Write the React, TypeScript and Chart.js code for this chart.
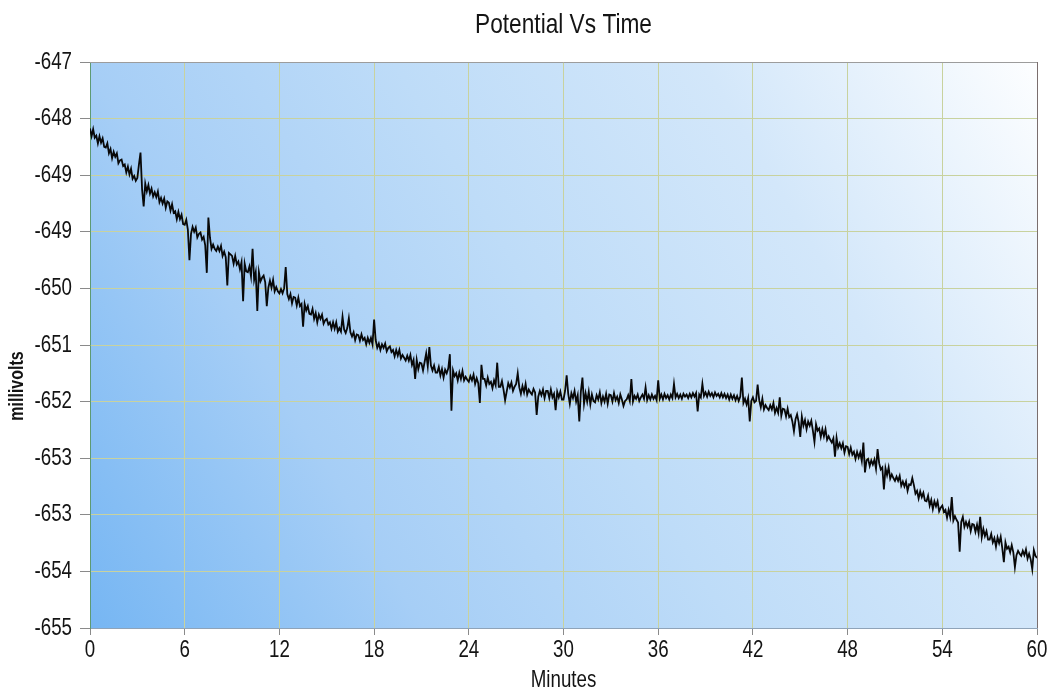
import { useEffect, useRef } from "react";
import { Chart, registerables } from "chart.js";

Chart.register(...registerables);

// Sampling interval of the recorded potential (minutes)
const SAMPLE_STEP_MIN = 0.1;

// Potential (mV), 0.0 – 9.9 min
const POT_00_10 = [
  -647.94, -648.05, -647.95, -648.07, -648.04, -648.15, -648.05, -648.14, -648.08, -648.2,
  -648.21, -648.15, -648.29, -648.23, -648.36, -648.27, -648.34, -648.29, -648.43, -648.39,
  -648.38, -648.47, -648.45, -648.56, -648.48, -648.59, -648.51, -648.65, -648.61, -648.68,
  -648.64, -648.45, -648.28, -648.8, -649.04, -648.72, -648.83, -648.74, -648.86, -648.79,
  -648.9, -648.84, -648.91, -648.83, -648.98, -648.92, -649.0, -648.93, -649.06, -648.97,
  -648.99, -649.1, -649.01, -649.13, -649.11, -649.22, -649.12, -649.22, -649.16, -649.29,
  -649.3, -649.23, -649.37, -649.8, -649.43, -649.33, -649.4, -649.34, -649.48, -649.43,
  -649.41, -649.51, -649.47, -649.59, -649.98, -649.2, -649.48, -649.64, -649.58, -649.64,
  -649.67, -649.61, -649.67, -649.6, -649.74, -649.68, -649.76, -650.16, -649.7, -649.72,
  -649.74, -649.85, -649.74, -649.86, -649.82, -649.93, -649.83, -650.38, -649.85, -649.96,
];
// 10.0 – 19.9 min
const POT_10_20 = [
  -649.97, -649.89, -650.03, -649.64, -650.08, -649.97, -650.52, -649.97, -650.1, -650.05,
  -650.02, -650.11, -650.45, -650.19, -650.09, -650.19, -650.08, -650.24, -650.18, -650.24,
  -650.27, -650.21, -650.27, -650.2, -649.9, -650.28, -650.35, -650.28, -650.41, -650.32,
  -650.33, -650.44, -650.33, -650.45, -650.42, -650.74, -650.42, -650.51, -650.45, -650.56,
  -650.57, -650.49, -650.63, -650.55, -650.68, -650.57, -650.63, -650.57, -650.7, -650.65,
  -650.63, -650.71, -650.68, -650.77, -650.68, -650.77, -650.68, -650.81, -650.76, -650.81,
  -650.6, -650.78, -650.83, -650.76, -650.62, -650.82, -650.88, -650.82, -650.93, -650.85,
  -650.86, -650.94, -650.85, -650.93, -650.9, -650.99, -650.9, -650.97, -650.9, -650.99,
  -650.64, -650.93, -651.04, -650.98, -651.07, -650.99, -651.04, -650.98, -651.09, -651.04,
  -651.02, -651.1, -651.07, -651.16, -651.07, -651.15, -651.07, -651.19, -651.14, -651.18,
];
// 20.0 – 29.9 min
const POT_20_30 = [
  -651.22, -651.15, -651.22, -651.14, -651.28, -651.21, -651.48, -651.21, -651.34, -651.25,
  -651.26, -651.36, -651.24, -651.12, -651.3, -651.03, -651.29, -651.36, -651.29, -651.39,
  -651.39, -651.31, -651.43, -651.34, -651.46, -651.35, -651.4, -651.33, -651.13, -651.93,
  -651.36, -651.44, -651.4, -651.5, -651.39, -651.48, -651.37, -651.5, -651.45, -651.49,
  -651.52, -651.44, -651.5, -651.42, -651.55, -651.47, -651.54, -651.82, -651.28, -651.48,
  -651.48, -651.57, -651.46, -651.55, -651.52, -651.61, -651.5, -651.57, -651.25, -651.59,
  -651.59, -651.51, -651.63, -651.78, -651.66, -651.54, -651.6, -651.53, -651.65, -651.59,
  -651.55, -651.4, -651.6, -651.69, -651.58, -651.67, -651.55, -651.7, -651.63, -651.67,
  -651.7, -651.62, -651.67, -651.99, -651.73, -651.65, -651.71, -651.63, -651.75, -651.65,
  -651.65, -651.75, -651.63, -651.74, -651.69, -651.92, -651.66, -651.74, -651.66, -651.77,
];
// 30.0 – 39.9 min
const POT_30_40 = [
  -651.77, -651.65, -651.43, -651.69, -651.83, -651.68, -651.75, -651.65, -651.8, -651.71,
  -652.08, -651.66, -651.46, -651.83, -651.68, -651.8, -651.66, -651.84, -651.7, -651.79,
  -651.81, -651.71, -651.77, -651.67, -651.82, -651.73, -651.8, -651.69, -651.83, -651.7,
  -651.71, -651.8, -651.68, -651.78, -651.73, -651.82, -651.7, -651.77, -651.86, -651.79,
  -651.77, -651.71, -651.79, -651.48, -651.8, -651.72, -651.76, -651.7, -651.79, -651.74,
  -651.7, -651.76, -651.6, -651.78, -651.71, -651.77, -651.7, -651.76, -651.72, -651.78,
  -651.5, -651.76, -651.7, -651.77, -651.69, -651.75, -651.71, -651.77, -651.7, -651.75,
  -651.55, -651.74, -651.69, -651.75, -651.7, -651.76, -651.69, -651.73, -651.7, -651.75,
  -651.69, -651.74, -651.68, -651.73, -651.68, -651.94, -651.7, -651.74, -651.55, -651.72,
  -651.67, -651.73, -651.66, -651.72, -651.68, -651.74, -651.67, -651.72, -651.69, -651.74,
];
// 40.0 – 49.9 min
const POT_40_50 = [
  -651.68, -651.74, -651.69, -651.75, -651.7, -651.77, -651.7, -651.76, -651.71, -651.78,
  -651.72, -651.79, -651.73, -651.46, -651.82, -651.76, -651.84, -651.75, -652.08, -651.79,
  -651.74, -651.81, -651.79, -651.56, -651.78, -651.88, -651.76, -651.91, -651.85, -651.89,
  -651.92, -651.85, -651.91, -651.82, -651.96, -651.89, -651.96, -651.74, -652.0, -651.9,
  -651.91, -652.01, -651.9, -652.02, -651.99, -652.08, -652.22, -652.05, -651.98, -652.09,
  -652.3, -652.01, -652.14, -652.06, -652.19, -652.08, -652.14, -652.07, -652.21, -652.37,
  -652.12, -652.21, -652.18, -652.3, -652.19, -652.29, -652.19, -652.34, -652.29, -652.34,
  -652.38, -652.32, -652.58, -652.31, -652.45, -652.39, -652.46, -652.39, -652.52, -652.43,
  -652.44, -652.54, -652.45, -652.55, -652.51, -652.61, -652.51, -652.59, -652.52, -652.64,
  -652.38, -652.8, -652.63, -652.61, -652.71, -652.63, -652.69, -652.62, -652.75, -652.47,
];
// 50.0 – 60.0 min
const POT_50_60 = [
  -652.67, -652.76, -652.73, -653.04, -652.74, -652.84, -652.73, -652.89, -652.83, -652.88,
  -652.92, -652.86, -652.92, -652.85, -652.99, -652.93, -653.0, -652.93, -653.06, -652.97,
  -652.98, -652.88, -652.98, -653.1, -653.06, -653.17, -653.07, -653.15, -653.09, -653.2,
  -653.21, -653.13, -653.27, -653.19, -653.32, -653.21, -653.28, -653.21, -653.35, -653.3,
  -653.27, -653.36, -653.33, -653.44, -653.33, -653.43, -653.15, -653.48, -653.42, -653.47,
  -653.51, -653.92, -653.5, -653.43, -653.57, -653.5, -653.57, -653.5, -653.63, -653.53,
  -653.54, -653.64, -653.54, -653.66, -653.43, -653.72, -653.6, -653.7, -653.63, -653.75,
  -653.75, -653.67, -653.79, -653.73, -653.85, -653.72, -653.8, -653.71, -653.87, -654.07,
  -653.79, -653.88, -653.85, -653.93, -653.83, -653.93, -654.14, -653.97, -653.91, -653.95,
  -653.98, -653.91, -653.97, -653.89, -654.02, -653.95, -654.03, -654.17, -653.9, -653.98,
  -654.01,
];

const X_TICKS = [0, 6, 12, 18, 24, 30, 36, 42, 48, 54, 60];
const Y_TICKS = [-655, -654.2, -653.4, -652.6, -651.8, -651, -650.2, -649.4, -648.6, -647.8, -647];
const Y_TICK_LABELS = ["-655", "-654", "-653", "-653", "-652", "-651", "-650", "-649", "-649", "-648", "-647"];

const TITLE = "Potential Vs Time";
const X_TITLE = "Minutes";
const Y_TITLE = "millivolts";

const FONT = "'Liberation Sans', Arial, sans-serif";
const TEXT_COLOR = "#141414";
const NARROW = 0.78; // horizontal squeeze of the narrow typeface
const GRID_COLOR = "rgb(200,210,158)";

export default function App() {
  const ref = useRef<HTMLCanvasElement>(null);

  useEffect(() => {
    document.body.style.margin = "0";
    const canvas = ref.current;
    if (!canvas) return;

    const values = [...POT_00_10, ...POT_10_20, ...POT_20_30, ...POT_30_40, ...POT_40_50, ...POT_50_60];
    const points = values.map((v, i) => ({ x: Math.round(i * SAMPLE_STEP_MIN * 10) / 10, y: v }));

    const narrowText = (ctx: CanvasRenderingContext2D, text: string, x: number, y: number, align: CanvasTextAlign, sx: number) => {
      ctx.save();
      ctx.translate(x, y);
      ctx.scale(sx, 1);
      ctx.textAlign = align;
      ctx.textBaseline = "middle";
      ctx.fillText(text, 0, 0);
      ctx.restore();
    };

    const decor = {
      id: "decor",
      beforeDraw(chart: any) {
        const { ctx, chartArea: a, width, height } = chart;
        ctx.save();
        ctx.fillStyle = "#ffffff";
        ctx.fillRect(0, 0, width, height);
        const g = ctx.createLinearGradient(a.left, a.bottom, a.right, a.top);
        g.addColorStop(0, "rgb(118,182,243)");
        g.addColorStop(0.26, "rgb(166,206,246)");
        g.addColorStop(0.5, "rgb(190,220,248)");
        g.addColorStop(0.74, "rgb(211,231,250)");
        g.addColorStop(1, "rgb(253,254,255)");
        ctx.fillStyle = g;
        ctx.fillRect(a.left, a.top, a.right - a.left, a.bottom - a.top);
        ctx.restore();
      },
      afterDraw(chart: any) {
        const { ctx, chartArea: a, scales } = chart;
        const xs = scales.x;
        const ys = scales.y;
        ctx.save();
        // top and right frame
        ctx.lineWidth = 1;
        ctx.strokeStyle = "#9c9c9c";
        ctx.beginPath();
        ctx.moveTo(a.left, a.top + 0.5);
        ctx.lineTo(a.right, a.top + 0.5);
        ctx.stroke();
        ctx.strokeStyle = "#7a6e6e";
        ctx.beginPath();
        ctx.moveTo(a.right + 0.5, a.top);
        ctx.lineTo(a.right + 0.5, a.bottom);
        ctx.stroke();

        ctx.fillStyle = TEXT_COLOR;
        // tick labels
        ctx.font = `24px ${FONT}`;
        X_TICKS.forEach((v) => {
          narrowText(ctx, String(v), xs.getPixelForValue(v), 650, "center", NARROW);
        });
        Y_TICKS.forEach((v, i) => {
          narrowText(ctx, Y_TICK_LABELS[i], 72, ys.getPixelForValue(v), "right", NARROW);
        });
        // axis title (x)
        narrowText(ctx, X_TITLE, (a.left + a.right) / 2, 680, "center", NARROW);
        // chart title
        ctx.font = `28px ${FONT}`;
        narrowText(ctx, TITLE, (a.left + a.right) / 2, 25, "center", 0.81);
        // axis title (y)
        ctx.translate(17, 386);
        ctx.rotate(-Math.PI / 2);
        ctx.font = `bold 20px ${FONT}`;
        narrowText(ctx, Y_TITLE, 0, 0, "center", 0.8);
        ctx.restore();
      },
    };

    const chart = new Chart(canvas, {
      type: "line",
      data: {
        datasets: [
          {
            data: points,
            borderColor: "#080808",
            borderWidth: 1.8,
            pointRadius: 0,
            tension: 0,
            fill: false,
          },
        ],
      },
      options: {
        animation: false,
        responsive: false,
        devicePixelRatio: 1,
        layout: { padding: { top: 62, right: 15, left: 0, bottom: 0 } },
        plugins: {
          legend: { display: false },
          tooltip: { enabled: false },
          title: { display: false },
        },
        scales: {
          x: {
            type: "linear",
            min: 0,
            max: 60,
            afterBuildTicks: (s: any) => {
              s.ticks = X_TICKS.map((v) => ({ value: v }));
            },
            afterFit: (s: any) => {
              s.height = 62;
            },
            ticks: { display: false, autoSkip: false, maxRotation: 0 },
            grid: {
              color: GRID_COLOR,
              lineWidth: 1,
              tickLength: 7,
              tickColor: "#8a8a8a",
            },
            border: { display: true, color: "#8fa3b8", width: 1 },
          },
          y: {
            type: "linear",
            min: -655,
            max: -647,
            afterBuildTicks: (s: any) => {
              s.ticks = Y_TICKS.map((v) => ({ value: v }));
            },
            afterFit: (s: any) => {
              s.width = 90;
            },
            ticks: { display: false, autoSkip: false },
            grid: {
              color: GRID_COLOR,
              lineWidth: 1,
              tickLength: 10,
              tickColor: "#8a8a8a",
            },
            border: { display: true, color: "#5e9a72", width: 1 },
          },
        },
      },
      plugins: [decor],
    });

    return () => chart.destroy();
  }, []);

  return <canvas ref={ref} width={1052} height={690} style={{ display: "block" }} />;
}
